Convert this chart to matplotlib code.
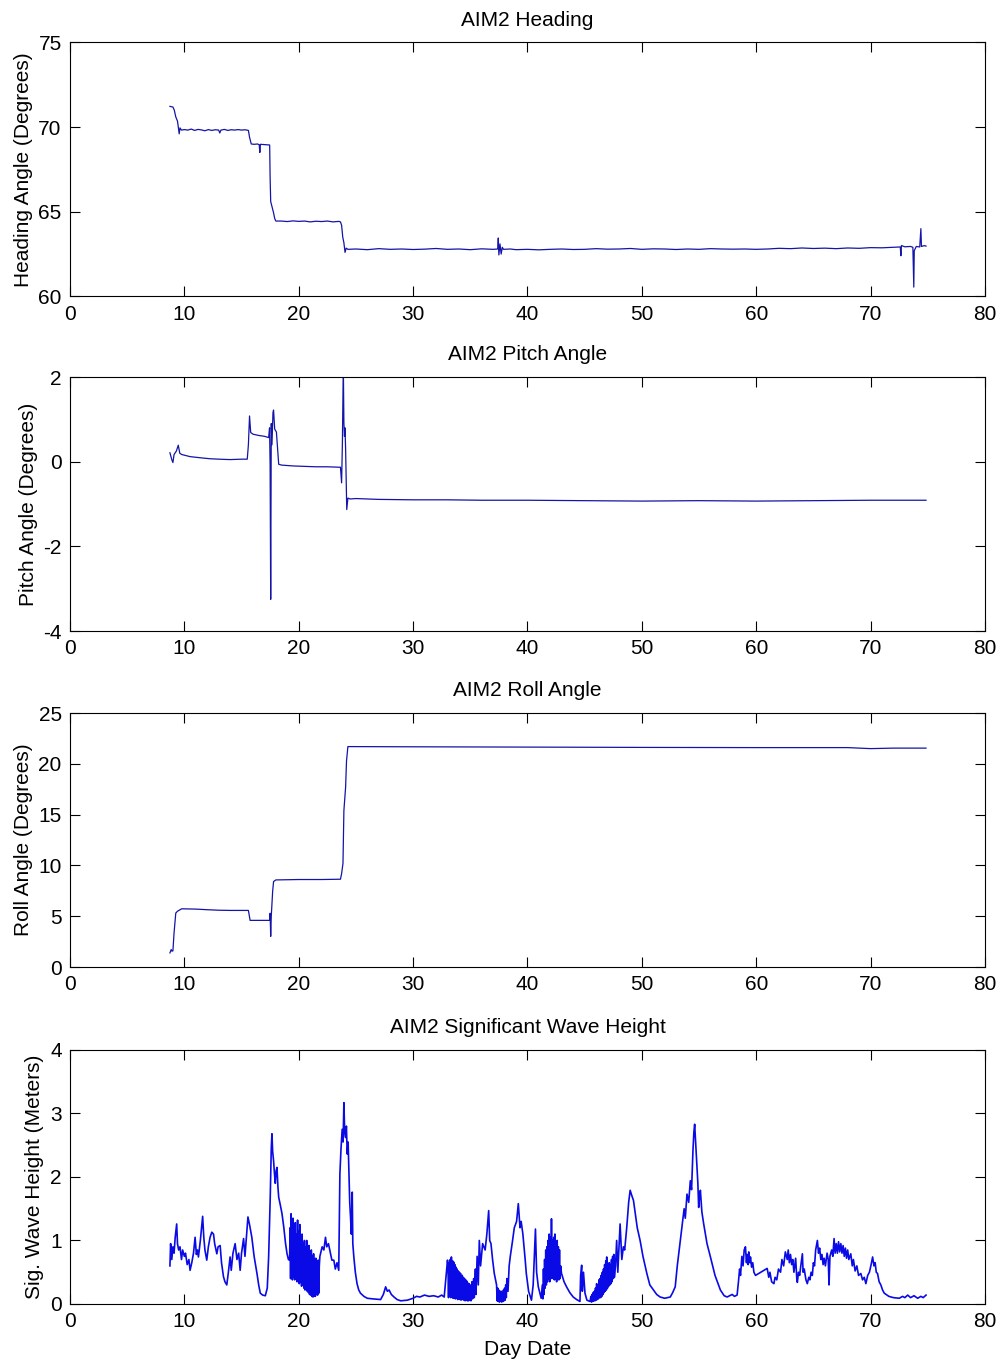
import matplotlib
matplotlib.use("Agg")
import matplotlib.pyplot as plt

plt.rcParams['font.family'] = ['Liberation Sans', 'DejaVu Sans']
plt.rcParams['font.size'] = 15
plt.rcParams['axes.unicode_minus'] = False

# ---- data ----
day_ticks = [0, 10, 20, 30, 40, 50, 60, 70, 80]

heading_day = [8.74, 9.0, 9.12, 9.25, 9.4, 9.5, 9.55, 9.62, 9.75, 10.0, 10.3, 10.6, 10.9, 11.2, 11.5,
               11.8, 12.1, 12.4, 12.7, 13.0, 13.1, 13.2, 13.5, 13.8, 14.1, 14.4, 14.7, 15.0, 15.3, 15.6,
               15.7, 15.85, 16.1, 16.4, 16.55, 16.6, 16.65, 17.0, 17.3, 17.46, 17.5, 17.55, 17.7, 17.8,
               17.9, 18.0, 18.5, 19.0, 19.5, 20.0, 20.5, 21.0, 21.5, 22.0, 22.5, 23.0, 23.5, 23.65,
               23.75, 23.85, 23.95, 24.05, 24.15, 24.3, 25, 26, 27, 28, 29, 30, 31, 32, 33, 34, 35, 36,
               37, 37.4, 37.45, 37.5, 37.6, 37.7, 37.8, 37.9, 38.5, 39, 40, 41, 42, 43, 44, 45, 46, 47,
               48, 49, 50, 51, 52, 53, 54, 55, 56, 57, 58, 59, 60, 61, 62, 63, 64, 65, 66, 67, 68, 69,
               70, 71, 72, 72.6, 72.65, 72.7, 73.0, 73.5, 73.7, 73.75, 73.78, 73.82, 74.0, 74.3, 74.4,
               74.45, 74.7, 74.85]
heading_deg = [71.22, 71.18, 71.0, 70.6, 70.35, 69.86, 69.6, 69.95, 69.82, 69.85, 69.82, 69.88, 69.8,
               69.86, 69.83, 69.78, 69.85, 69.8, 69.84, 69.82, 69.65, 69.82, 69.86, 69.8, 69.84, 69.82,
               69.85, 69.82, 69.84, 69.8, 69.4, 69.0, 68.98, 69.0, 68.95, 68.5, 68.98, 68.96, 68.94,
               68.94, 67.0, 65.6, 65.2, 64.94, 64.6, 64.45, 64.45, 64.42, 64.46, 64.43, 64.45, 64.4,
               64.44, 64.42, 64.45, 64.4, 64.43, 64.4, 64.2, 63.5, 63.17, 62.6, 62.85, 62.78, 62.8,
               62.76, 62.82, 62.78, 62.8, 62.77, 62.79, 62.83, 62.78, 62.8, 62.76, 62.81, 62.78, 62.8,
               63.45, 62.45, 63.1, 62.5, 62.9, 62.78, 62.8, 62.76, 62.78, 62.75, 62.78, 62.8, 62.77,
               62.78, 62.82, 62.79, 62.8, 62.83, 62.78, 62.81, 62.8, 62.77, 62.8, 62.78, 62.82, 62.8,
               62.79, 62.8, 62.78, 62.8, 62.84, 62.82, 62.86, 62.83, 62.85, 62.82, 62.86, 62.84, 62.88,
               62.87, 62.9, 62.92, 62.4, 63.0, 62.93, 62.95, 62.9, 61.4, 60.55, 62.7, 62.95, 62.92,
               64.0, 62.95, 63.0, 62.97]

pitch_day = [8.74, 8.9, 9.0, 9.1, 9.3, 9.47, 9.6, 9.77, 10.5, 11.5, 12.25, 13, 14, 15, 15.5, 15.6, 15.7,
             15.8, 16.0, 16.5, 17.0, 17.37, 17.45, 17.5, 17.55, 17.6, 17.66, 17.75, 17.8, 17.9, 18.05,
             18.25, 18.5, 19.5, 20.5, 21.5, 22.5, 23.5, 23.65, 23.75, 23.82, 23.9, 23.95, 24.0, 24.05,
             24.1, 24.2, 24.3, 24.5, 25, 27, 30, 33, 36, 40, 45, 50, 55, 60, 65, 70, 74.85]
pitch_deg = [0.21, 0.05, -0.02, 0.17, 0.25, 0.39, 0.2, 0.17, 0.12, 0.09, 0.07, 0.06, 0.05, 0.06, 0.06,
             0.4, 1.08, 0.69, 0.65, 0.62, 0.6, 0.57, 0.8, -0.1, -3.25, 0.9, 0.4, 1.16, 1.22, 0.77, 0.7,
             -0.06, -0.08, -0.1, -0.11, -0.12, -0.12, -0.13, -0.13, -0.5, 0.45, 2.3, 0.92, 0.6, 0.8, 0.3,
             -1.13, -0.86, -0.88, -0.87, -0.89, -0.9, -0.9, -0.91, -0.91, -0.92, -0.93, -0.92, -0.93,
             -0.92, -0.91, -0.91]

roll_day = [8.74, 8.85, 8.92, 9.0, 9.1, 9.25, 9.4, 9.77, 11, 12, 13, 14, 15, 15.6, 15.75, 16.5, 17.46,
            17.5, 17.55, 17.6, 17.72, 17.8, 18.0, 20, 22, 23.65, 23.75, 23.87, 23.95, 24.1, 24.18, 24.3,
            30, 40, 50, 60, 68, 70, 72, 74.85]
roll_deg = [1.4, 1.73, 1.57, 1.6, 3.36, 5.32, 5.5, 5.74, 5.71, 5.65, 5.6, 5.58, 5.58, 5.58, 4.6, 4.6, 4.6,
            5.3, 3.03, 5.0, 7.44, 8.42, 8.58, 8.62, 8.62, 8.65, 9.2, 10.2, 15.4, 17.7, 20.3, 21.7, 21.68,
            21.65, 21.62, 21.6, 21.6, 21.5, 21.55, 21.55]

wave_day = [8.74, 8.8, 8.9, 9.0, 9.1, 9.2, 9.33, 9.4, 9.5, 9.62, 9.75, 9.85, 10.0, 10.1, 10.25, 10.4,
            10.5, 10.65, 10.8, 10.94, 11.05, 11.15, 11.23, 11.4, 11.6, 11.7, 11.8, 11.96, 12.1, 12.25,
            12.4, 12.55, 12.65, 12.84, 12.95, 13.13, 13.25, 13.42, 13.55, 13.71, 13.85, 14.0, 14.1,
            14.25, 14.44, 14.6, 14.75, 14.88, 15.0, 15.18, 15.3, 15.45, 15.56, 15.7, 15.9, 16.1, 16.35,
            16.5, 16.64, 16.85, 17.08, 17.25, 17.37, 17.51, 17.6, 17.66, 17.72, 17.8, 17.88, 17.95,
            18.03, 18.1, 18.18, 18.25, 18.4, 18.54, 18.7, 18.85, 18.98, 19.1, 19.2,
            19.25, 19.29, 19.33, 19.37, 19.41, 19.45, 19.5, 19.55, 19.6, 19.65, 19.7, 19.75, 19.8,
            19.85, 19.9, 19.95, 20.0, 20.05, 20.1, 20.15, 20.2, 20.25, 20.3, 20.35, 20.4, 20.45, 20.5,
            20.55, 20.6, 20.65, 20.7, 20.75, 20.8, 20.85, 20.9, 20.95, 21.0, 21.05, 21.1, 21.15, 21.2,
            21.25, 21.3, 21.35, 21.4, 21.45, 21.5, 21.55, 21.6, 21.65, 21.7, 21.75, 21.8,
            21.85, 22.05, 22.2, 22.34, 22.45, 22.6, 22.78, 22.9, 23.07, 23.2, 23.35, 23.5, 23.6, 23.7,
            23.8, 23.88, 23.95, 24.02, 24.1, 24.17, 24.24, 24.32, 24.39, 24.46, 24.53, 24.6, 24.68,
            24.73, 24.82, 24.95, 25.1, 25.25, 25.4, 25.7, 25.99, 26.5, 27.16, 27.4, 27.6, 27.75, 27.9,
            28.1, 28.33, 28.6, 28.92, 29.5, 30.0, 30.3, 30.6, 31.0, 31.4, 31.8, 32.2, 32.5, 32.72, 33.01,
            33.05, 33.1, 33.15, 33.2, 33.25, 33.3, 33.35, 33.4, 33.45, 33.5, 33.55, 33.6, 33.65, 33.7,
            33.75, 33.8, 33.85, 33.9, 33.95, 34.0, 34.05, 34.1, 34.15, 34.2, 34.3, 34.35, 34.4, 34.45,
            34.5, 34.55, 34.6, 34.65, 34.7, 34.75, 34.8, 34.85, 34.9, 34.95, 35.0, 35.06, 35.15, 35.2,
            35.3, 35.35, 35.45, 35.5, 35.6, 35.7, 35.79, 35.9, 36.08, 36.3, 36.45, 36.61, 36.7, 36.81,
            36.95, 37.1, 37.3, 37.35, 37.4, 37.45, 37.5, 37.55, 37.6, 37.65, 37.7, 37.75, 37.8, 37.85,
            37.9, 37.95, 38.0, 38.05, 38.1, 38.15, 38.2, 38.3, 38.4, 38.5, 38.7, 38.85, 39.05, 39.2,
            39.35, 39.45, 39.6, 39.8, 39.9, 40.1, 40.35, 40.5, 40.7, 40.8, 40.95, 41.2,
            41.3, 41.35, 41.4, 41.45, 41.5, 41.55, 41.6, 41.65, 41.7, 41.75, 41.8, 41.85, 41.9, 41.95,
            42.0, 42.05, 42.1, 42.15, 42.2, 42.25, 42.3, 42.35, 42.4, 42.45, 42.5, 42.55, 42.6, 42.65,
            42.7, 42.75, 42.8, 42.85, 42.9, 42.98, 43.2, 43.42, 43.7, 44.0, 44.3, 44.59, 44.65, 44.74,
            44.8, 44.9, 45.03, 45.2, 45.47,
            45.55, 45.6, 45.65, 45.7, 45.75, 45.8, 45.85, 45.9, 45.95, 46.0, 46.05, 46.1, 46.15, 46.2,
            46.25, 46.3, 46.35, 46.4, 46.45, 46.5, 46.55, 46.6, 46.65, 46.7, 46.75, 46.8, 46.85, 46.9,
            46.93, 47.0, 47.05, 47.1, 47.15, 47.2, 47.25, 47.3, 47.35, 47.4, 47.45, 47.51, 47.55, 47.6,
            47.7, 47.8, 47.9, 48.1, 48.25, 48.39, 48.5, 48.68, 48.85, 48.98, 49.1, 49.27, 49.45, 49.6,
            49.85, 50.1, 50.44, 50.7, 51.02, 51.3, 51.6, 52.0, 52.49, 52.7, 52.92, 53.1, 53.3, 53.51,
            53.7, 53.8, 53.95, 54.1, 54.24, 54.35, 54.47, 54.55, 54.62, 54.72, 54.82, 54.9, 54.97,
            55.05, 55.12, 55.25, 55.41, 55.7, 56.0, 56.4, 56.87, 57.2, 57.46, 57.9, 58.1, 58.33,
            58.45, 58.55, 58.63, 58.75, 58.85, 58.95, 59.06, 59.15, 59.2, 59.3, 59.35, 59.45, 59.5,
            59.6, 59.7, 59.8, 59.94, 60.96, 61.1, 61.2, 61.35, 61.55, 61.65, 61.8, 61.95, 62.13,
            62.25, 62.4, 62.55, 62.72, 62.8, 62.9, 63.0, 63.1, 63.2, 63.3, 63.45, 63.55, 63.6, 63.7,
            63.8, 63.9, 64.04, 64.1, 64.2, 64.35, 64.47, 64.6, 64.7, 64.8, 64.91, 65.0, 65.1, 65.2,
            65.35, 65.45, 65.55, 65.65, 65.75, 65.85, 65.94, 66.05, 66.2, 66.3, 66.37, 66.45, 66.6,
            66.7, 66.81, 66.9, 67.0, 67.1, 67.2, 67.3, 67.4, 67.5, 67.6, 67.7, 67.8, 67.9, 68.0,
            68.1, 68.27, 68.4, 68.5, 68.65, 68.8, 68.95, 69.15, 69.3, 69.45, 69.59, 69.75, 69.9,
            70.05, 70.18, 70.3, 70.4, 70.5, 70.61, 70.75, 70.9, 71.05, 71.2, 71.6, 72.0, 72.51, 72.8,
            73.0, 73.25, 73.5, 73.8, 74.12, 74.4, 74.6, 74.85]
wave_hs = [0.6, 0.95, 0.7, 0.9, 0.8, 1.05, 1.26, 0.95, 0.85, 0.9, 0.7, 0.85, 0.75, 0.8, 0.62, 0.7,
           0.53, 0.65, 0.8, 1.05, 0.78, 0.85, 0.74, 1.0, 1.38, 1.05, 0.85, 0.69, 0.9, 1.05,
           1.13, 1.1, 0.95, 0.79, 0.9, 0.92, 0.65, 0.43, 0.35, 0.3, 0.5, 0.74, 0.53,
           0.8, 0.95, 0.7, 0.8, 0.53, 0.8, 1.03, 0.75, 1.1, 1.37, 1.25, 1.05, 0.75, 0.48,
           0.3, 0.17, 0.14, 0.13, 0.25, 0.74, 1.68, 2.45, 2.68, 2.4, 2.26, 2.05, 1.9,
           2.1, 2.15, 1.85, 1.68, 1.55, 1.42, 1.2, 0.95, 0.79, 0.7, 0.69,
           1.2, 0.4, 1.42, 0.45, 1.3, 0.38, 1.35, 0.42, 1.2, 0.38, 1.28, 0.4, 1.1,
           0.35, 1.32, 0.38, 1.15, 0.32, 1.25, 0.35, 1.05, 0.28, 1.1, 0.3, 0.95, 0.25, 1.0,
           0.22, 0.9, 0.25, 1.0, 0.2, 0.85, 0.18, 0.92, 0.15, 0.8, 0.14, 0.85, 0.12, 0.75,
           0.11, 0.79, 0.13, 0.7, 0.12, 0.72, 0.15, 0.65, 0.14, 0.69, 0.17, 0.6,
           0.75, 0.9, 0.85, 1.05, 0.9, 0.95, 0.79, 0.69, 0.69, 0.55, 0.65, 0.53, 2.05, 2.45,
           2.75, 2.55, 3.17, 2.7, 2.62, 2.8, 2.36, 2.55, 2.05, 1.6, 1.37, 1.1, 1.76,
           0.95, 0.74, 0.5, 0.32, 0.22, 0.17, 0.12, 0.09, 0.08, 0.07, 0.15, 0.27, 0.2, 0.22,
           0.15, 0.11, 0.07, 0.05, 0.06, 0.09, 0.12, 0.11, 0.14, 0.12, 0.13, 0.11, 0.14, 0.11, 0.69,
           0.6, 0.1, 0.65, 0.12, 0.7, 0.1, 0.74, 0.11, 0.68, 0.09, 0.66, 0.1, 0.62, 0.08,
           0.58, 0.09, 0.55, 0.07, 0.52, 0.08, 0.5, 0.07, 0.48, 0.06, 0.45, 0.07, 0.42, 0.06,
           0.4, 0.05, 0.38, 0.06, 0.36, 0.05, 0.33, 0.05, 0.32, 0.06, 0.3, 0.05, 0.35, 0.08,
           0.4, 0.1, 0.55, 0.15, 0.75, 0.3, 1.0, 0.6, 0.95, 0.85, 1.1, 1.47, 1.0, 0.95,
           0.7, 0.48, 0.3, 0.05, 0.25, 0.04, 0.22, 0.03, 0.2, 0.04, 0.2, 0.03, 0.18, 0.04,
           0.22, 0.05, 0.25, 0.06, 0.3, 0.1, 0.4, 0.2, 0.6, 0.75, 1.0, 1.2, 1.3, 1.58,
           1.2, 1.3, 1.1, 0.7, 0.48, 0.2, 0.06, 0.3, 1.18, 0.5, 0.27, 0.09,
           0.3, 0.08, 0.55, 0.15, 0.7, 0.25, 0.85, 0.3, 0.9, 0.35, 1.0, 0.4, 1.1, 0.35,
           1.05, 0.4, 1.34, 0.45, 1.0, 0.4, 1.05, 0.38, 1.1, 0.4, 0.95, 0.35, 1.0, 0.4,
           0.9, 0.38, 0.85, 0.4, 0.6, 0.48, 0.35, 0.27, 0.18, 0.11, 0.07, 0.04, 0.45, 0.61,
           0.2, 0.5, 0.17, 0.06, 0.04,
           0.12, 0.03, 0.15, 0.04, 0.18, 0.05, 0.2, 0.05, 0.25, 0.06, 0.32, 0.07, 0.3, 0.08,
           0.38, 0.1, 0.4, 0.1, 0.45, 0.12, 0.5, 0.15, 0.55, 0.18, 0.62, 0.2, 0.68, 0.22,
           0.74, 0.25, 0.6, 0.28, 0.65, 0.3, 0.62, 0.32, 0.7, 0.35, 0.75, 0.4, 0.78, 0.42,
           0.6, 1.0, 0.5, 1.26, 0.7, 0.9, 0.85, 1.2, 1.6, 1.79, 1.72, 1.63, 1.4, 1.2,
           1.0, 0.75, 0.48, 0.3, 0.22, 0.15, 0.11, 0.09, 0.11, 0.18, 0.27, 0.6, 0.9, 1.21,
           1.5, 1.35, 1.73, 1.6, 1.94, 1.8, 2.41, 2.7, 2.83, 2.5, 2.2, 1.9, 1.52,
           1.7, 1.79, 1.45, 1.26, 0.95, 0.74, 0.45, 0.22, 0.13, 0.11, 0.15, 0.12, 0.14,
           0.35, 0.55, 0.45, 0.75, 0.6, 0.85, 0.9, 0.65, 0.78, 0.62, 0.82, 0.65, 0.74,
           0.58, 0.65, 0.5, 0.45, 0.56, 0.42, 0.5, 0.35, 0.32, 0.42, 0.38, 0.55, 0.5,
           0.7, 0.6, 0.82, 0.7, 0.85, 0.65, 0.78, 0.62, 0.7, 0.5, 0.72, 0.4, 0.34, 0.5,
           0.45, 0.6, 0.79, 0.5, 0.55, 0.38, 0.32, 0.42, 0.38, 0.5, 0.45, 0.65, 0.6, 0.85,
           1.0, 0.8, 0.88, 0.7, 0.78, 0.62, 0.72, 0.6, 0.8, 0.7, 0.3, 0.75, 0.85,
           0.75, 1.03, 0.8, 0.95, 0.8, 0.98, 0.82, 0.95, 0.8, 0.92, 0.75, 0.88, 0.72, 0.85,
           0.7, 0.79, 0.6, 0.7, 0.52, 0.6, 0.45, 0.48, 0.38, 0.42, 0.32, 0.45, 0.5,
           0.62, 0.74, 0.6, 0.65, 0.5, 0.48, 0.35, 0.3, 0.22, 0.17, 0.12, 0.1, 0.09, 0.12,
           0.1, 0.14, 0.1, 0.13, 0.09, 0.12, 0.1, 0.14]

line_color = '#1414a8'
wave_color = '#0a0ae6'

fig = plt.figure(figsize=(10.04, 13.66), dpi=100)
left, width, height = 0.0697, 0.9113, 0.186
bottoms = [0.783, 0.538, 0.292, 0.0454]

panels = [
    (heading_day, heading_deg, 'AIM2 Heading', 'Heading Angle (Degrees)', (60, 75), [60, 65, 70, 75]),
    (pitch_day, pitch_deg, 'AIM2 Pitch Angle', 'Pitch Angle (Degrees)', (-4, 2), [-4, -2, 0, 2]),
    (roll_day, roll_deg, 'AIM2 Roll Angle', 'Roll Angle (Degrees)', (0, 25), [0, 5, 10, 15, 20, 25]),
    (wave_day, wave_hs, 'AIM2 Significant Wave Height', 'Sig. Wave Height (Meters)', (0, 4), [0, 1, 2, 3, 4]),
]

for i, (x, y, title, ylab, ylim, yt) in enumerate(panels):
    ax = fig.add_axes([left, bottoms[i], width, height])
    if i == 3:
        ax.plot(x, y, color=wave_color, linewidth=1.2)
    else:
        ax.plot(x, y, color=line_color, linewidth=0.9)
    ax.set_xlim(0, 80)
    ax.set_ylim(*ylim)
    ax.set_xticks(day_ticks)
    ax.set_yticks(yt)
    ax.set_title(title, fontsize=15, pad=12)
    ax.set_ylabel(ylab, fontsize=15, labelpad=4)
    ax.tick_params(direction='in', length=7, width=0.8, top=True, right=True, labelsize=15, pad=6)
    for s in ax.spines.values():
        s.set_linewidth(0.8)
    if i == 3:
        ax.set_xlabel('Day Date', fontsize=15, labelpad=6)

fig.savefig('out.png', dpi=100)
